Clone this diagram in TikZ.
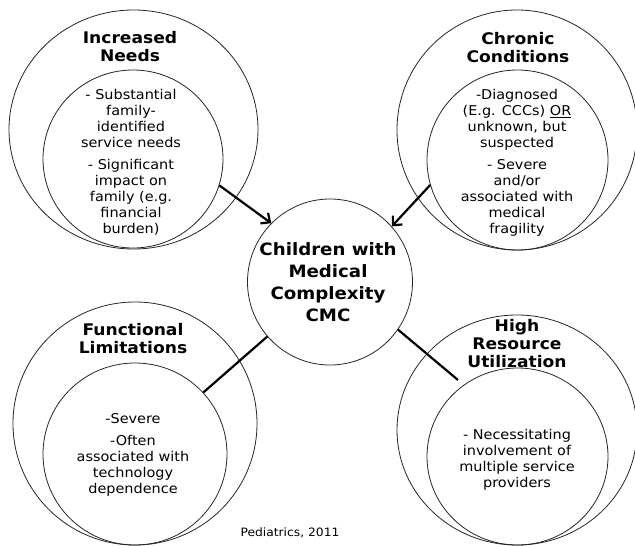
\documentclass[tikz,border=0pt]{standalone}
\usepackage{fontspec}
\setmainfont{DejaVu Sans}[FakeStretch=1.07]
\usetikzlibrary{shapes.geometric,arrows.meta}
\begin{document}
\begin{tikzpicture}[x=1pt,y=-1pt,
  ring/.style={ellipse, draw=black!85, line width=0.8pt, inner sep=0pt},
  ttl/.style={font=\bfseries\fontsize{16}{18}\selectfont, align=center, inner sep=0pt},
  ctl/.style={font=\bfseries\fontsize{17}{22}\selectfont, align=center, inner sep=0pt},
  body/.style={font=\fontsize{13.5}{16}\selectfont, align=center, inner sep=0pt},
  conn/.style={line width=2.2pt, black},
  arr/.style={conn, -{Straight Barb[length=7pt,width=13pt]}}]
\useasboundingbox (0,0) rectangle (635,546);
\fill[white] (0,0) rectangle (635,546);
% outer and inner circles
\node[ring, minimum width=249pt, minimum height=239pt] (TLo) at (133.5,129.5) {};
\node[ring, minimum width=180pt, minimum height=178pt] (TLi) at (133,159) {};
\node[ring, minimum width=240pt, minimum height=240pt] (TRo) at (517,130) {};
\node[ring, minimum width=181pt, minimum height=180pt] (TRi) at (517.5,160) {};
\node[ring, minimum width=244pt, minimum height=243pt] (BLo) at (135,423.5) {};
\node[ring, minimum width=184pt, minimum height=182pt] (BLi) at (135,454) {};
\node[ring, minimum width=240pt, minimum height=230pt] (BRo) at (517,430) {};
\node[ring, minimum width=181pt, minimum height=177pt] (BRi) at (517.5,456.5) {};
\node[ring, minimum width=165pt, minimum height=166pt] (C) at (330,282) {};
% texts
\node[ttl] (TLt) at (130,47) {Increased\\Needs};
\node[body] (TLb) at (131,162) {- Substantial\\family-\\identified\\service needs\\[6pt]- Significant\\impact on\\family (e.g.\\financial\\burden)};
\node[ttl] (TRt) at (518,47.5) {Chronic\\Conditions};
\node[body] (TRb) at (517,162.5) {-Diagnosed\\(E.g. CCCs) \underline{OR}\\unknown, but\\suspected\\[6pt]- Severe\\and/or\\associated with\\medical\\fragility};
\node[ttl] (BLt) at (133,339) {Functional\\Limitations};
\node[body] (BLb) at (133,455) {-Severe\\[6pt]-Often\\associated with\\technology\\dependence};
\node[ttl] (BRt) at (517,343.5) {High\\Resource\\Utilization};
\node[body] (BRb) at (517,459.5) {- Necessitating\\involvement of\\multiple service\\providers};
\node[ctl] (Ct) at (328,282.5) {Children with\\Medical\\Complexity\\CMC};
\node[font=\fontsize{11.5}{13}\selectfont, inner sep=0pt] (src) at (290,533) {Pediatrics, 2011};
% connectors
\coordinate (brend) at (458,380);
\draw[arr] (TLi.-17) -- (C.135);
\draw[arr] (TRi.196) -- (C.42);
\draw[conn] (BLi.42) -- (C.221);
\draw[conn] (C.-35) -- (brend);
\end{tikzpicture}
\end{document}
